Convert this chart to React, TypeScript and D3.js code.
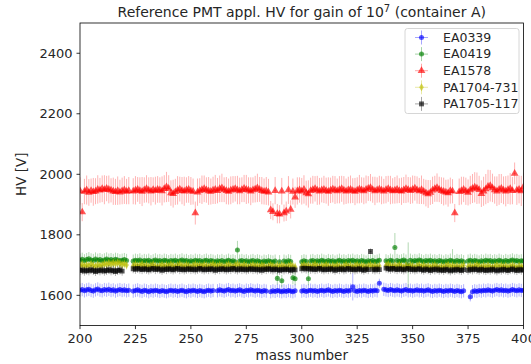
import React from 'react';
import * as d3 from 'd3';

// ---------- data ----------
const massStart = 200; // values are listed for consecutive mass numbers 200..400
const xTicks = [200, 225, 250, 275, 300, 325, 350, 375, 400];
const yTicks = [1600, 1800, 2000, 2200, 2400];
const seriesNames = ['EA0339', 'EA0419', 'EA1578', 'PA1704-731', 'PA1705-117'];

const N = null;

const ea1578 = [
  1945, 1875, 1943, 1948, 1940, 1946, 1942, 1944, 1950, 1947,
  1952, 1949, 1953, 1950, 1947, 1944, 1942, 1946, 1941, 1945,
  1948, 1943, 1946, N, 1944, 1947, 1950, 1946, 1943, 1948,
  1952, 1947, 1944, 1949, 1946, 1950, 1948, 1945, 1952, 1958,
  1953, 1938, 1936, 1942, 1947, 1951, 1946, 1944, 1948, 1950,
  1945, 1943, 1872, 1941, 1946, 1949, 1952, 1948, 1945, 1943,
  1947, 1950, 1946, 1952, 1955, 1949, 1946, 1943, 1947, 1950,
  1952, 1948, 1945, 1949, 1953, 1950, 1947, 1944, 1948, 1951,
  1955, 1950, 1946, 1943, 1945, 1941, 1882, 1876, 1946, 1870,
  1868, 1944, 1872, 1878, 1948, 1884, 1943, 1924, 1945, 1948,
  1944, 1950, 1938, 1935, 1946, 1949, 1952, 1947, 1944, 1948,
  1950, 1946, 1943, 1947, 1951, 1948, 1945, 1949, 1952, 1947,
  1944, 1948, 1950, 1946, 1943, 1947, 1951, 1948, 1945, 1950,
  1953, 1956, 1949, 1945, 1948, 1951, 1947, 1944, 1949, 1952,
  1948, 1945, 1947, 1950, 1946, 1944, 1948, 1952, 1949, 1946,
  1950, 1954, 1948, 1945, 1949, 1943, 1938, 1935, 1940, 1947,
  1952, 1956, 1950, 1946, 1943, 1941, 1938, 1946, 1944, 1872,
  N, 1942, 1946, 1950, 1944, 1940, 1948, 1953, 1957, 1954,
  1949, 1936, 1944, 1951, 1960, 1962, 1955, 1948, 1944, 1950,
  1953, 1947, 1944, 1949, 1952, 1946, 2003, 1947, 1950, 1945,
  1958,
];
const ea1578Err = [
  45, 30, 42, 48, 44, 40, 46, 43, 47, 41,
  44, 48, 42, 46, 40, 45, 43, 47, 41, 44,
  46, 42, 45, 0, 43, 47, 41, 44, 48, 42,
  45, 43, 47, 41, 46, 44, 42, 48, 45, 50,
  44, 42, 46, 43, 47, 41, 45, 48, 42, 44,
  46, 43, 38, 45, 41, 47, 44, 42, 46, 43,
  45, 48, 42, 44, 47, 41, 45, 43, 46, 44,
  42, 47, 44, 41, 45, 48, 43, 46, 42, 44,
  47, 41, 45, 43, 46, 44, 30, 28, 45, 32,
  30, 44, 28, 32, 46, 30, 43, 35, 45, 42,
  44, 47, 41, 45, 43, 46, 42, 48, 44, 41,
  45, 43, 47, 42, 44, 46, 41, 45, 43, 47,
  42, 44, 46, 41, 45, 43, 47, 42, 44, 46,
  41, 45, 43, 47, 42, 44, 46, 41, 45, 43,
  47, 42, 44, 46, 41, 45, 43, 47, 42, 44,
  46, 41, 45, 43, 47, 42, 44, 46, 41, 45,
  43, 47, 42, 44, 46, 41, 45, 43, 40, 30,
  0, 44, 46, 42, 45, 43, 47, 48, 50, 52,
  46, 44, 48, 50, 55, 52, 47, 45, 49, 51,
  48, 46, 50, 47, 52, 45, 36, 48, 46, 50,
  47,
];

const ea0339 = [
  1617, 1619, 1615, 1618, 1620, 1616, 1614, 1618, 1621, 1617,
  1615, 1619, 1617, 1620, 1616, 1618, 1614, 1617, 1619, 1616,
  1618, 1615, 1617, N, 1614, 1616, 1618, 1615, 1613, 1617,
  1615, 1612, 1616, 1614, 1617, 1615, 1613, 1616, 1614, 1612,
  1615, 1617, 1614, 1616, 1613, 1615, 1617, 1614, 1612, 1616,
  1614, 1617, 1615, 1613, 1616, 1614, 1612, 1615, 1617, 1614,
  1616, N, 1615, 1618, 1616, 1614, 1617, 1619, 1615, 1617,
  1614, 1616, 1618, 1615, 1613, 1617, 1615, 1618, 1616, 1614,
  1617, 1615, 1613, 1616, 1614, N, 1612, 1615, 1613, 1616,
  1614, 1612, 1615, 1613, 1616, 1614, 1612, 1615, N, N,
  1614, 1616, 1613, 1615, 1617, 1614, 1616, 1613, 1615, 1617,
  1614, 1616, 1618, 1615, 1613, 1616, 1614, 1617, 1615, 1613,
  1616, 1614, 1617, 1628, 1615, 1613, 1616, 1614, 1617, 1615,
  1613, 1616, 1614, 1617, 1615, 1640, N, 1620, 1618, 1616,
  1619, 1617, 1615, 1618, 1616, 1614, 1617, 1619, 1615, 1617,
  1614, 1616, 1618, 1615, 1617, 1614, 1616, 1618, 1615, 1613,
  1616, 1614, 1617, 1615, 1613, 1616, 1614, 1617, 1615, 1613,
  1616, 1614, 1612, 1615, N, N, 1595, 1612, 1615, 1613,
  1616, 1614, 1617, 1615, 1618, 1616, 1614, 1617, 1619, 1616,
  1618, 1615, 1617, 1614, 1616, 1619, 1617, 1615, 1618, 1616,
  1617,
];

const ea0419 = [
  1716, 1719, 1714, 1718, 1721, 1717, 1715, 1720, 1716, 1718,
  1714, 1717, 1720, 1716, 1718, 1715, 1719, 1717, 1714, 1716,
  1718, 1715, N, N, 1713, 1716, 1714, 1717, 1712, 1715,
  1713, 1716, 1711, 1714, 1717, 1713, 1715, 1712, 1716, 1714,
  1711, 1715, 1713, 1716, 1712, 1714, 1717, 1713, 1715, 1711,
  1714, 1712, 1716, 1713, 1715, 1711, 1714, 1716, 1712, 1715,
  1713, 1710, 1714, 1712, 1715, 1711, 1713, 1716, 1712, 1714,
  1711, 1750, 1713, 1715, 1712, 1714, 1710, 1713, 1715, 1711,
  1714, 1712, 1709, 1713, 1711, 1714, 1712, 1710, 1713, 1656,
  1711, 1648, 1713, 1710, 1714, 1712, 1658, 1655, N, N,
  1711, 1714, 1712, 1655, 1713, 1715, 1711, 1714, 1712, 1716,
  1713, 1711, 1715, 1712, 1714, 1710, 1713, 1716, 1712, 1714,
  1711, 1715, 1713, 1716, 1712, 1714, 1711, 1715, 1713, 1710,
  1714, 1712, 1715, 1711, 1713, 1716, N, N, 1714, 1711,
  1716, 1713, 1758, 1715, 1712, 1714, 1717, 1713, 1700, 1716,
  1712, 1715, 1713, 1717, 1714, 1711, 1715, 1713, 1716, 1712,
  1714, 1711, 1715, 1713, 1710, 1714, 1712, 1716, 1713, 1711,
  1715, 1712, 1714, 1711, N, 1713, 1716, 1712, 1715, 1713,
  1710, 1714, 1712, 1716, 1713, 1715, 1711, 1714, 1712, 1716,
  1713, 1711, 1715, 1712, 1714, 1717, 1713, 1715, 1712, 1714,
  1713,
];

const pa1704 = [
  1698, 1702, 1696, 1700, 1697, 1703, 1699, 1695, 1701, 1698,
  1700, 1704, 1702, 1706, 1703, 1707, 1704, 1708, 1705, 1702,
  1704, 1700, N, N, 1698, 1701, 1697, 1699, 1702, 1696,
  1699, 1695, 1698, 1701, 1697, 1694, 1698, 1700, 1696, 1699,
  1697, 1701, 1698, 1695, 1699, 1702, 1698, 1696, 1700, 1697,
  1694, 1698, 1701, 1697, 1699, 1696, 1700, 1698, 1695, 1699,
  1702, 1698, 1696, 1700, 1697, 1694, 1698, 1701, 1697, 1695,
  1699, 1702, 1698, 1696, 1700, 1697, 1693, 1697, 1700, 1696,
  1698, 1695, 1699, 1696, 1693, 1697, 1700, 1696, 1694, 1698,
  1695, 1699, 1696, 1693, 1697, 1700, 1696, 1694, N, N,
  1697, 1700, 1696, 1699, 1695, 1698, 1701, 1697, 1694, 1698,
  1696, 1700, 1697, 1693, 1698, 1695, 1699, 1696, 1692, 1697,
  1700, 1696, 1698, 1694, 1697, 1700, 1695, 1698, 1696, 1693,
  1697, 1700, 1695, 1698, 1694, 1697, N, N, 1699, 1702,
  1698, 1695, 1699, 1696, 1700, 1697, 1693, 1698, 1695, 1699,
  1696, 1692, 1697, 1700, 1695, 1698, 1694, 1697, 1693, 1696,
  1699, 1695, 1692, 1696, 1693, 1697, 1700, 1695, 1698, 1694,
  1697, 1693, 1696, 1699, N, 1695, 1698, 1694, 1697, 1700,
  1696, 1693, 1697, 1694, 1698, 1695, 1692, 1696, 1699, 1695,
  1698, 1694, 1697, 1693, 1696, 1699, 1695, 1692, 1697, 1694,
  1696,
];

const pa1705 = [
  1682, 1684, 1680, 1683, 1681, 1685, 1682, 1679, 1683, 1681,
  1684, 1680, 1682, 1685, 1681, 1683, 1679, 1682, 1684, 1680,
  N, N, N, N, 1688, 1686, 1689, 1687, 1685, 1688,
  1686, 1684, 1687, 1689, 1685, 1688, 1686, 1683, 1687, 1685,
  1688, 1686, 1684, 1687, 1689, 1685, 1687, 1684, 1686, 1688,
  1685, 1687, 1684, 1686, 1689, 1686, 1684, 1687, 1685, 1688,
  1686, 1683, 1687, 1685, 1688, 1686, 1684, 1687, 1685, 1689,
  1686, 1684, 1688, 1685, 1687, 1684, 1686, 1688, 1685, 1687,
  1684, 1686, 1683, 1687, 1685, 1688, 1686, 1684, 1687, 1685,
  1683, 1686, 1684, 1687, 1685, 1683, 1686, 1684, N, N,
  1688, 1690, 1687, 1689, 1686, 1688, 1685, 1687, 1689, 1686,
  1684, 1687, 1685, 1688, 1686, 1683, 1687, 1685, 1688, 1684,
  1686, 1689, 1685, 1687, 1684, 1686, 1688, 1685, 1683, 1687,
  1685, 1745, 1686, 1684, 1687, 1685, N, N, 1690, 1688,
  1686, 1689, 1687, 1685, 1688, 1686, 1684, 1687, 1689, 1685,
  1687, 1684, 1686, 1688, 1685, 1683, 1687, 1685, 1682, 1686,
  1684, 1687, 1683, 1685, 1682, 1686, 1684, 1681, 1685, 1683,
  1686, 1684, 1682, 1685, N, 1683, 1686, 1684, 1687, 1685,
  1683, 1686, 1684, 1682, 1685, 1683, 1686, 1684, 1681, 1685,
  1683, 1686, 1684, 1682, 1685, 1687, 1684, 1682, 1686, 1683,
  1685,
];

// typical HV uncertainties per PMT and a few individually read error bars
const typicalErr = [22, 22, 45, 15, 15];
const blueErrOverrides: Record<number, number> = { 323: 45, 335: 15, 376: 15 };
const greenErrOverrides: Record<number, number> = { 271: 30, 289: 20, 291: 20, 342: 48, 348: 75, 368: 40 };
const blackErrOverrides: Record<number, number> = { 331: 10 };

// ---------- styling ----------
const W = 531;
const H = 364;
const colors = ['#0000ff', '#008000', '#ff0000', '#bfbf00', '#000000'];
const symbols = [d3.symbolCircle, d3.symbolCircle, d3.symbolTriangle, d3.symbolDiamond, d3.symbolSquare];
const symbolSizes = [20, 20, 26, 18, 24];
const FONT = 'DejaVu Sans, sans-serif';

type Pt = { m: number; v: number; e: number };

function buildSeries(vals: (number | null)[], errs: (i: number, m: number) => number): Pt[] {
  const out: Pt[] = [];
  vals.forEach((v, i) => {
    if (v === null) return;
    const m = massStart + i;
    out.push({ m, v, e: errs(i, m) });
  });
  return out;
}

const seriesData: Pt[][] = [
  buildSeries(ea0339, (i, m) => blueErrOverrides[m] ?? typicalErr[0]),
  buildSeries(ea0419, (i, m) => greenErrOverrides[m] ?? typicalErr[1]),
  buildSeries(ea1578, (i) => ea1578Err[i]),
  buildSeries(pa1704, () => typicalErr[3]),
  buildSeries(pa1705, (i, m) => blackErrOverrides[m] ?? typicalErr[4]),
];

export default function App() {
  const left = 80;
  const right = 523.5;
  const top = 23;
  const bottom = 325.6;
  const x = d3.scaleLinear().domain([200, 400]).range([left, right]);
  const y = d3.scaleLinear().domain([1500, 2500]).range([bottom, top]);
  const xerr = 0.5;

  const legendX = 405;
  const legendY = 28.5;
  const legendW = 114;
  const legendH = 85;
  const rowH = 16.6;

  return (
    <svg
      width={W}
      height={H}
      style={{ position: 'absolute', left: 0, top: 0, display: 'block', background: '#fff' }}
      fontFamily={FONT}
    >
      <defs>
        <clipPath id="plotclip">
          <rect x={left} y={top} width={right - left} height={bottom - top} />
        </clipPath>
      </defs>
      <rect x={0} y={0} width={W} height={H} fill="#fff" />

      {/* data */}
      <g clipPath="url(#plotclip)">
        {seriesData.map((pts, si) => (
          <g key={si}>
            <g stroke={colors[si]} strokeOpacity={0.3} strokeWidth={1}>
              {pts.map((p, k) => (
                <g key={k}>
                  <line x1={x(p.m)} x2={x(p.m)} y1={y(p.v - p.e)} y2={y(p.v + p.e)} />
                  <line x1={x(p.m - xerr)} x2={x(p.m + xerr)} y1={y(p.v)} y2={y(p.v)} />
                </g>
              ))}
            </g>
            <g fill={colors[si]} fillOpacity={0.65}>
              {pts.map((p, k) => (
                <path
                  key={k}
                  d={d3.symbol().type(symbols[si]).size(symbolSizes[si])() as string}
                  transform={`translate(${x(p.m)},${y(p.v)})`}
                />
              ))}
            </g>
          </g>
        ))}
      </g>

      {/* axes frame */}
      <rect x={left} y={top} width={right - left} height={bottom - top} fill="none" stroke="#000" strokeWidth={0.8} />

      {/* x ticks */}
      {xTicks.map((t) => (
        <g key={t} transform={`translate(${x(t)},${bottom})`}>
          <line y1={0} y2={3.5} stroke="#000" strokeWidth={0.8} />
          <text y={17.5} textAnchor="middle" fontSize={13} fill="#262626">
            {t}
          </text>
        </g>
      ))}
      {/* y ticks */}
      {yTicks.map((t) => (
        <g key={t} transform={`translate(${left},${y(t)})`}>
          <line x1={0} x2={-3.5} stroke="#000" strokeWidth={0.8} />
          <text x={-7.5} dy="0.35em" textAnchor="end" fontSize={13} fill="#262626">
            {t}
          </text>
        </g>
      ))}

      {/* axis labels */}
      <text x={(left + right) / 2} y={359.5} textAnchor="middle" fontSize={13.5} fill="#262626">
        mass number
      </text>
      <text
        transform={`translate(26,${(top + bottom) / 2}) rotate(-90)`}
        textAnchor="middle"
        fontSize={13.5}
        fill="#262626"
      >
        HV [V]
      </text>

      {/* title */}
      <text x={(left + right) / 2} y={17} textAnchor="middle" fontSize={14} fill="#262626">
        Reference PMT appl. HV for gain of 10
        <tspan dy={-5.5} fontSize={10}>7</tspan>
        <tspan dy={5.5}> (container A)</tspan>
      </text>

      {/* legend */}
      <rect
        x={legendX}
        y={legendY}
        width={legendW}
        height={legendH}
        rx={2.5}
        fill="#fff"
        fillOpacity={0.8}
        stroke="#cccccc"
        strokeWidth={0.8}
      />
      {seriesNames.map((name, i) => {
        const cy = legendY + 9 + i * rowH;
        const cx = 421.5;
        return (
          <g key={name}>
            <line x1={cx - 6.5} x2={cx + 6.5} y1={cy} y2={cy} stroke={colors[i]} strokeOpacity={0.35} />
            <line x1={cx} x2={cx} y1={cy - 7} y2={cy + 7} stroke={colors[i]} strokeOpacity={0.35} />
            <path
              d={d3.symbol().type(symbols[i]).size(symbolSizes[i])() as string}
              transform={`translate(${cx},${cy})`}
              fill={colors[i]}
              fillOpacity={0.65}
            />
            <text x={443} y={cy} dy="0.35em" fontSize={12.5} fill="#262626">
              {name}
            </text>
          </g>
        );
      })}
    </svg>
  );
}
